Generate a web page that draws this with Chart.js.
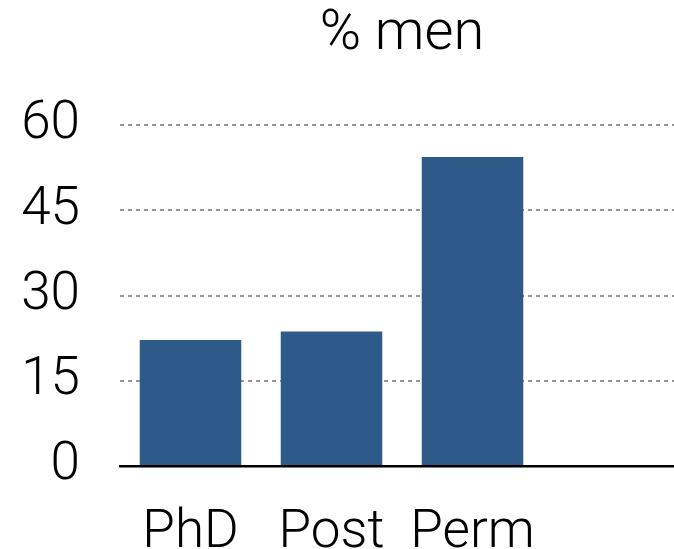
<!DOCTYPE html>
<html>
<head>
<meta charset="utf-8">
<script src="https://cdn.jsdelivr.net/npm/chart.js@4"></script>
<style>
  html, body { margin:0; padding:0; background:#fff; overflow:hidden; }
  #wrap { width:674px; height:549px; overflow:hidden; }
  #box { width:690px; height:549px; position:relative; }
</style>
</head>
<body>
<div id="wrap"><div id="box"><canvas id="chartMen"></canvas></div></div>
<script>
const categories = ["PhD", "Post", "Perm", ""];
const menPct = [22.2, 23.7, 54.4, null];
const yTicks = [0, 15, 30, 45, 60];
const chartTitle = "% men";

const fontFam = "Roboto, 'Helvetica Neue', 'Liberation Sans', sans-serif";

function makeChart(ctx){
  return new Chart(ctx, {
    type: "bar",
    data: {
      labels: categories,
      datasets: [{ label: chartTitle, data: menPct, backgroundColor: "#2E5A8A",
        barPercentage: 0.72, categoryPercentage: 1 }]
    },
    options: {
      animation: false, responsive: true, maintainAspectRatio: false,
      layout: { padding: { top: 0, right: 6, left: 0, bottom: 0 } },
      scales: {
        x: {
          grid: { display: false },
          border: { display: true, color: "#000", width: 2.5 },
          ticks: { color: "#000", padding: 28, font: { family: fontFam, size: 53, weight: 300 } },
          afterFit: s => { s.height = 83; }
        },
        y: {
          min: 0, max: 60,
          afterBuildTicks: s => { s.ticks = yTicks.map(v => ({ value: v })); },
          grid: { drawTicks: false, lineWidth: 2,
            color: c => (c.tick && c.tick.value === 0) ? "rgba(0,0,0,0)" : "#959595" },
          border: { display: false, dash: [4, 4] },
          ticks: { color: "#000", padding: 40, font: { family: fontFam, size: 53, weight: 300 } },
          afterFit: s => { s.width = 120; }
        }
      },
      plugins: {
        legend: { display: false },
        tooltip: { enabled: false },
        title: { display: true, text: chartTitle, color: "#000", fullSize: false,
          font: { family: fontFam, size: 56, weight: 300, lineHeight: 1.2 },
          padding: { top: 1, bottom: 57 } }
      }
    }
  });
}

window.addEventListener("DOMContentLoaded", () => {
  makeChart(document.getElementById("chartMen"));
});
</script>
</body>
</html>
